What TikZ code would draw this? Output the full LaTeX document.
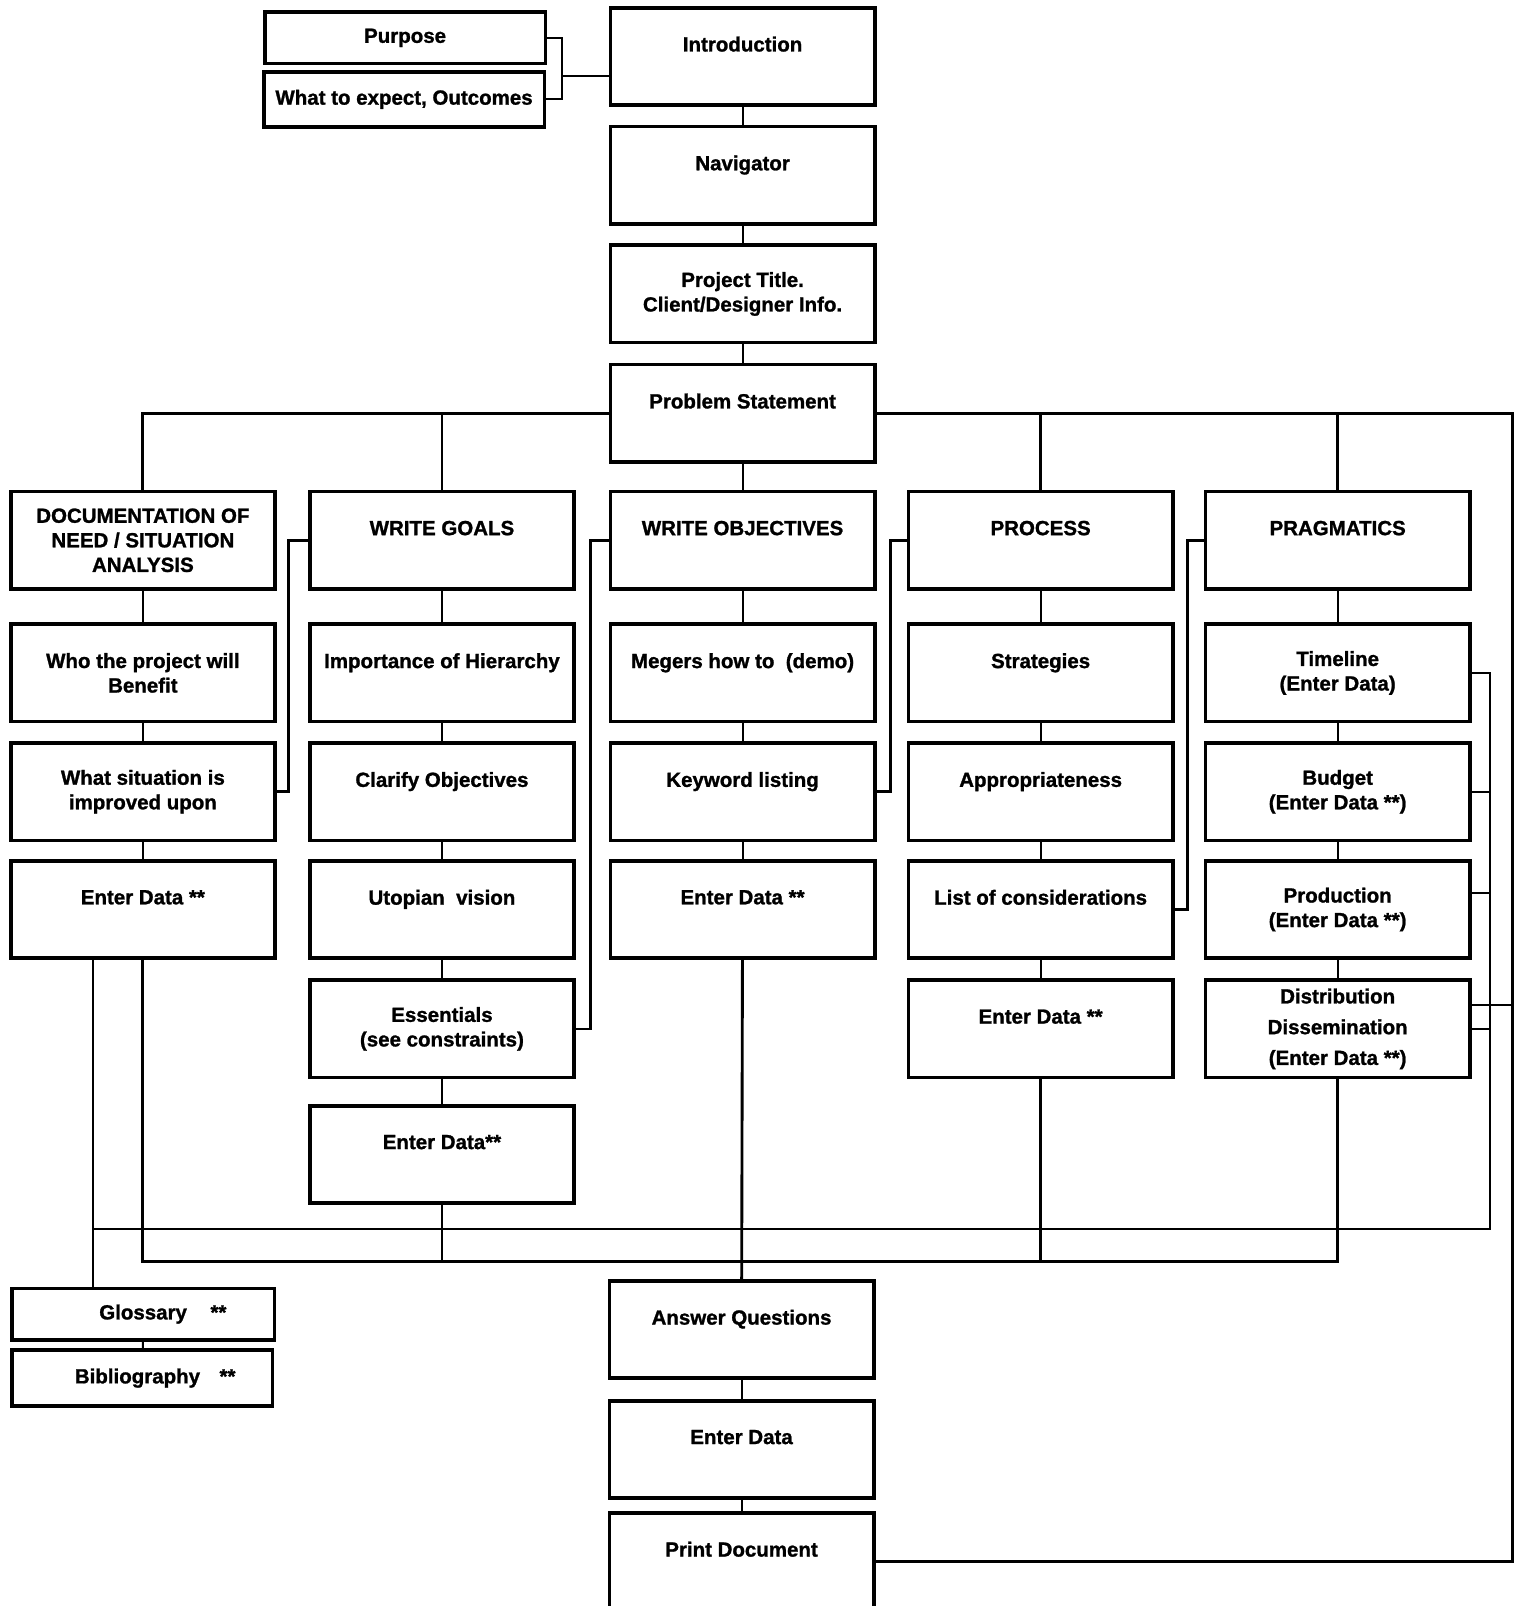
\documentclass[tikz,border=0pt]{standalone}
\usepackage{fontspec}
\setmainfont{Liberation Sans}
\newfontfamily\boxfont{Liberation Sans Bold}[FakeBold=1.2]
\usetikzlibrary{calc}
\begin{document}
\begin{tikzpicture}[x=0.5pt,y=-0.5pt,
  line join=miter,
  box/.style={draw,line width=1.8pt,minimum width=129pt,minimum height=47.5pt,
    align=center,inner sep=1pt,font=\fontsize{10}{12}\boxfont},
  slim/.style={box,minimum width=137pt,minimum height=25pt},
  link/.style={line width=1pt},
  bus/.style={line width=1.4pt},
  brace/.style={line width=1.3pt},
  fine/.style={line width=0.8pt}]

\fill[white] (0,0) rectangle (1487,1568);
\useasboundingbox (0,0) rectangle (1487,1568);

% introduction block
\node[slim] (purpose) at (395.5,37) {Purpose};
\node[slim,minimum height=27pt] (expect) at (394.5,97) {What to expect, Outcomes};
\node[box] (intro) at (725,55) {Introduction\\\mbox{}};
\node[box] (nav) at (725,171) {Navigator\\\mbox{}};
\node[box] (proj) at (725,287) {Project Title.\\Client/Designer Info.};
\node[box] (prob) at (725,403.5) {Problem Statement\\\mbox{}};

% column headers
\node[box] (doc) at (139.5,527.5) {DOCUMENTATION OF\\NEED / SITUATION\\ANALYSIS};
\node[box] (wg) at (431.5,527.5) {WRITE GOALS\\\mbox{}};
\node[box] (wo) at (725,527.5) {WRITE OBJECTIVES\\\mbox{}};
\node[box] (proc) at (1016,527.5) {PROCESS\\\mbox{}};
\node[box] (prag) at (1306,527.5) {PRAGMATICS\\\mbox{}};

% second row
\node[box] (who) at (139.5,657) {Who the project will\\Benefit};
\node[box] (imp) at (431.5,657) {Importance of Hierarchy\\\mbox{}};
\node[box] (meg) at (725,657) {Megers how to\ \ (demo)\\\mbox{}};
\node[box] (strat) at (1016,657) {Strategies\\\mbox{}};
\node[box] (time) at (1306,657) {Timeline\\(Enter Data)};

% third row
\node[box] (sit) at (139.5,773) {What situation is\\improved upon};
\node[box] (clar) at (431.5,773) {Clarify Objectives\\\mbox{}};
\node[box] (key) at (725,773) {Keyword listing\\\mbox{}};
\node[box] (appr) at (1016,773) {Appropriateness\\\mbox{}};
\node[box] (budg) at (1306,773) {Budget\\(Enter Data **)};

% fourth row
\node[box] (doced) at (139.5,888) {Enter Data **\\\mbox{}};
\node[box] (uto) at (431.5,888) {Utopian\ \ vision\\\mbox{}};
\node[box] (woed) at (725,888) {Enter Data **\\\mbox{}};
\node[box] (list) at (1016,888) {List of considerations\\\mbox{}};
\node[box] (prod) at (1306,888) {Production\\(Enter Data **)};

% fifth and sixth rows
\node[box] (ess) at (431.5,1004.5) {Essentials\\(see constraints)};
\node[box] (proced) at (1016,1004.5) {Enter Data **\\\mbox{}};
\node[box] (dist) at (1306,1004.5) {Distribution\\[3pt]Dissemination\\[3pt](Enter Data **)};
\node[box] (wged) at (431.5,1127) {Enter Data**\\\mbox{}};

% back matter
\node[slim,minimum width=128pt] (gloss) at (140,1283) {\hspace*{19pt}Glossary\hspace{11.5pt}**};
\node[slim,minimum width=127pt,minimum height=27.5pt] (bib) at (139,1345.5) {\hspace*{12.5pt}Bibliography\hspace{9.5pt}**};
\node[box] (answer) at (724,1298) {Answer Questions\\\mbox{}};
\node[box] (ented) at (724,1415) {Enter Data\\\mbox{}};
\node[box] (print) at (724,1524.5) {Print Document\\\mbox{}};

% helper coordinates for the frame and buses
\coordinate (lx) at (91,0);
\coordinate (inx) at (1455,0);
\coordinate (outx) at (1477,0);
\coordinate (busA) at (0,1232);
\coordinate (busB) at (0,1200);

% purpose bracket
\draw[link] (purpose.east) -- ++(14,0) coordinate (bt) |- (expect.east);
\coordinate (ij) at ($(intro.west)+(0,19)$);
\draw[link] (ij) -- (ij -| bt);

% central spine
\draw[link] (intro) -- (nav);
\draw[link] (nav) -- (proj);
\draw[link] (proj) -- (prob);
\draw[link] (prob) -- (wo);

% top bus and outer frame
\draw[bus] (prob.west) -| (doc.north);
\draw[bus] (prob.west -| wg.north) -- (wg.north);
\draw[bus] (prob.east) -- (prob.east -| outx) |- (print.east);
\draw[bus] (prob.east -| proc.north) -- (proc.north);
\draw[bus] (prob.east -| prag.north) -- (prag.north);

% column chains
\draw[link] (doc) -- (who);
\draw[link] (who) -- (sit);
\draw[link] (sit) -- (doced);
\draw[link] (wg) -- (imp);
\draw[link] (imp) -- (clar);
\draw[link] (clar) -- (uto);
\draw[link] (uto) -- (ess);
\draw[link] (ess) -- (wged);
\draw[link] (wo) -- (meg);
\draw[link] (meg) -- (key);
\draw[link] (key) -- (woed);
\draw[bus] (woed) -- (answer);
\draw[link] (answer) -- (ented);
\draw[link] (ented) -- (print);
\draw[link] (proc) -- (strat);
\draw[link] (strat) -- (appr);
\draw[link] (appr) -- (list);
\draw[link] (list) -- (proced);
\draw[link] (prag) -- (time);
\draw[link] (time) -- (budg);
\draw[link] (budg) -- (prod);
\draw[link] (prod) -- (dist);
\draw[link] (gloss) -- (bib);

% cross-links between columns
\draw[brace] (wg.west) -- ++(-19,0) |- (sit.east);
\draw[brace] (wo.west) -- ++(-18,0) |- (ess.east);
\draw[brace] (proc.west) -- ++(-16,0) |- (key.east);
\draw[brace] (prag.west) -- ++(-16,0) |- (list.east);

% lower bus
\draw[bus] (doced.south) |- (dist.south |- busA) -- (dist.south);
\draw[bus] (wged.south) -- (wged.south |- busA);
\draw[bus] (proced.south) -- (proced.south |- busA);

% pragmatics feedback bus
\draw[fine] (doced.south -| lx) -- (gloss.north -| lx);
\draw[fine] (lx |- busB) -- (inx |- busB) |- (time.east);
\draw[fine] (budg.east) -- (budg.east -| inx);
\coordinate (prodc) at ($(prod.east)+(0,-16)$);
\draw[fine] (prodc) -- (prodc -| inx);
\draw[fine] (dist.east) -- (dist.east -| inx);
\coordinate (distc) at ($(dist.east)+(0,-23)$);
\draw[link] (distc) -- (distc -| outx);
\end{tikzpicture}
\end{document}
